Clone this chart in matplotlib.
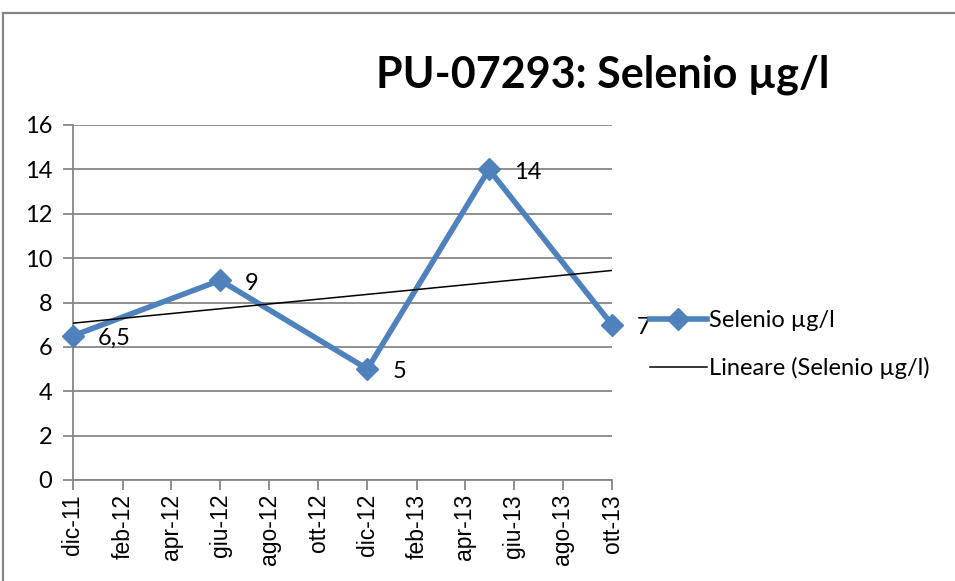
import matplotlib
matplotlib.use("Agg")
import matplotlib.pyplot as plt
import matplotlib.dates as mdates
from matplotlib.lines import Line2D
import numpy as np
import datetime as dt

# ---- data ----
dates = [dt.date(2011, 12, 1), dt.date(2012, 6, 1), dt.date(2012, 12, 1),
         dt.date(2013, 5, 1), dt.date(2013, 10, 1)]
values = [6.5, 9, 5, 14, 7]
value_labels = ["6,5", "9", "5", "14", "7"]
tick_dates = [dt.date(2011, 12, 1), dt.date(2012, 2, 1), dt.date(2012, 4, 1),
              dt.date(2012, 6, 1), dt.date(2012, 8, 1), dt.date(2012, 10, 1),
              dt.date(2012, 12, 1), dt.date(2013, 2, 1), dt.date(2013, 4, 1),
              dt.date(2013, 6, 1), dt.date(2013, 8, 1), dt.date(2013, 10, 1)]
tick_labels = ["dic-11", "feb-12", "apr-12", "giu-12", "ago-12", "ott-12",
               "dic-12", "feb-13", "apr-13", "giu-13", "ago-13", "ott-13"]
y_ticks = [0, 2, 4, 6, 8, 10, 12, 14, 16]
title = "PU-07293: Selenio µg/l"
series_name = "Selenio µg/l"
trend_name = "Lineare (Selenio µg/l)"

blue = "#4F81BD"
grid_c = "#868686"
font_main = "Lato"
fs = 17

fig = plt.figure(figsize=(9.55, 5.81), dpi=100)
ax = fig.add_axes([73 / 955, 1 - 480 / 581, (612 - 73) / 955, (480 - 125) / 581])

xnum = mdates.date2num(dates)
ax.plot(xnum, values, color=blue, lw=4.0, marker="D", ms=11,
        markeredgecolor=blue, label=series_name, zorder=3, clip_on=False)

# linear trendline (Excel "Lineare")
coef = np.polyfit(xnum, values, 1)
tx = np.array([mdates.date2num(tick_dates[0]), mdates.date2num(tick_dates[-1])])
ax.plot(tx, np.polyval(coef, tx), color="black", lw=1.1, label=trend_name, zorder=4)

for x, y, lab in zip(xnum, values, value_labels):
    ax.annotate(lab, (x, y), xytext=(18, -2), textcoords="offset points",
                ha="left", va="center", fontsize=fs, family=font_main, zorder=5)

ax.set_xlim(mdates.date2num(tick_dates[0]), mdates.date2num(tick_dates[-1]))
ax.set_ylim(0, 16)
ax.set_yticks(y_ticks)
ax.set_yticklabels([str(v) for v in y_ticks], family=font_main, fontsize=fs)
ax.set_xticks(mdates.date2num(tick_dates))
ax.set_xticklabels(tick_labels, rotation=90, family="Liberation Sans", fontsize=16.5)
ax.yaxis.grid(True, color=grid_c, lw=1.3)
ax.set_axisbelow(True)
for s in ["top", "right"]:
    ax.spines[s].set_visible(False)
for s in ["left", "bottom"]:
    ax.spines[s].set_color(grid_c)
    ax.spines[s].set_linewidth(1.3)
ax.tick_params(axis="both", direction="out", length=7, width=1.3, color=grid_c)
ax.tick_params(axis="y", pad=8)
ax.tick_params(axis="x", pad=3)

fig.text(603 / 955, 1 - 75 / 581, title, ha="center", va="center",
         fontsize=31, fontweight="bold", family=font_main)

leg = ax.legend(loc="upper left", bbox_to_anchor=(650 / 955, 1 - 310 / 581),
                bbox_transform=fig.transFigure, frameon=False,
                prop={"family": font_main, "size": fs}, handlelength=2.4,
                labelspacing=1.1, handletextpad=0.1, borderaxespad=0, borderpad=0)

# chart area border (top & left visible)
fig.add_artist(Line2D([3 / 955, 1], [1 - 12.5 / 581, 1 - 12.5 / 581],
                      transform=fig.transFigure, color=grid_c, lw=1.6))
fig.add_artist(Line2D([3 / 955, 3 / 955], [0, 1 - 12.5 / 581],
                      transform=fig.transFigure, color=grid_c, lw=1.6))

fig.savefig("out.png", dpi=100)
